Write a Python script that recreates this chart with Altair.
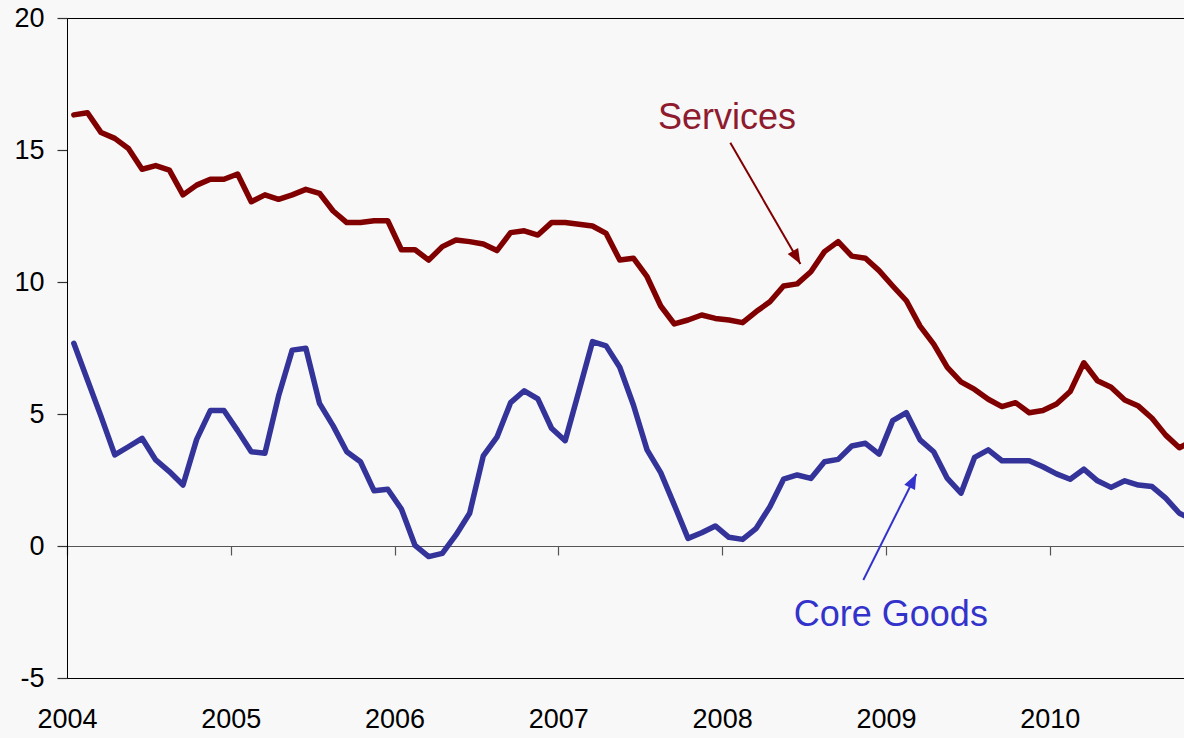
import altair as alt
import pandas as pd

# Monthly values, Jan 2004 .. Nov 2010 (percent)
services = [
    16.33, 16.41, 15.66, 15.44, 15.06, 14.27, 14.41, 14.24, 13.30, 13.67, 13.89, 13.89,
    14.09, 13.04, 13.30, 13.13, 13.30, 13.51, 13.36, 12.69, 12.25, 12.25, 12.32, 12.32,
    11.22, 11.22, 10.83, 11.34, 11.59, 11.53, 11.44, 11.19, 11.87, 11.94, 11.78, 12.25,
    12.25, 12.19, 12.12, 11.84, 10.83, 10.90, 10.20, 9.09, 8.41, 8.56, 8.75, 8.62,
    8.56, 8.46, 8.88, 9.25, 9.85, 9.93, 10.39, 11.15, 11.53, 10.98, 10.90, 10.43,
    9.85, 9.29, 8.33, 7.65, 6.77, 6.22, 5.93, 5.56, 5.28, 5.43, 5.05, 5.13,
    5.38, 5.85, 6.94, 6.26, 6.01, 5.53, 5.30, 4.84, 4.20, 3.72, 4.00,
]
core_goods = [
    7.68, 6.29, 4.90, 3.45, 3.76, 4.08, 3.26, 2.82, 2.31, 4.04, 5.13, 5.13,
    4.37, 3.57, 3.51, 5.68, 7.42, 7.49, 5.40, 4.55, 3.57, 3.19, 2.09, 2.15,
    1.40, 0.02, -0.40, -0.28, 0.42, 1.24, 3.41, 4.12, 5.43, 5.88, 5.57, 4.46,
    3.99, 5.85, 7.74, 7.58, 6.77, 5.34, 3.64, 2.78, 1.55, 0.29, 0.50, 0.76,
    0.33, 0.25, 0.67, 1.49, 2.53, 2.69, 2.56, 3.19, 3.28, 3.79, 3.89, 3.48,
    4.75, 5.05, 4.02, 3.57, 2.56, 2.00, 3.36, 3.64, 3.23, 3.23, 3.23, 3.00,
    2.73, 2.53, 2.91, 2.47, 2.22, 2.47, 2.31, 2.25, 1.81, 1.24, 1.00,
]
series_names = ["Services", "Core Goods"]
series_colors = ["#800000", "#333399"]
year_ticks = [2004, 2005, 2006, 2007, 2008, 2009, 2010]
y_ticks = [-5, 0, 5, 10, 15, 20]

# Annotation labels and arrows (data coordinates)
label_text = ["Services", "Core Goods"]
label_x = [2008.03, 2009.03]
label_y = [16.21, -2.61]
label_color = ["#8E1B2E", "#3333CC"]
arrow_x1 = [2008.05, 2008.862]
arrow_y1 = [15.27, -1.29]
arrow_x2 = [2008.478, 2009.186]
arrow_y2 = [10.68, 2.73]
arrow_angle = [150, 26.6]
arrow_color = ["#800000", "#3333CC"]

n = len(services)
t = [2004 + (i + 0.5) / 12 for i in range(n)]
df = pd.DataFrame({
    "t": t + t,
    "value": services + core_goods,
    "series": [series_names[0]] * n + [series_names[1]] * n,
})
labels = pd.DataFrame({"text": label_text, "x": label_x, "y": label_y, "color": label_color})
arrows = pd.DataFrame({"x1": arrow_x1, "y1": arrow_y1, "x2": arrow_x2, "y2": arrow_y2,
                       "angle": arrow_angle, "color": arrow_color})

FONT = "Liberation Sans"
x_scale = alt.Scale(domain=[2004, 2010.82], nice=False, zero=False)
y_scale = alt.Scale(domain=[-5, 20], nice=False, zero=False)

x_axis = alt.Axis(
    values=year_ticks, format="d", offset=-132, orient="bottom",
    domain=True, domainColor="#555555", domainWidth=1.2,
    ticks=True, tickSize=9, tickColor="#555555", tickWidth=1.2,
    grid=False, title=None,
    labelFont=FONT, labelFontSize=27, labelColor="#000000",
    labelPadding=151, labelAlign="center", labelBaseline="top",
    labelOverlap=False, labelFlush=False)
y_axis = alt.Axis(
    values=y_ticks, orient="left",
    labelExpr="toString(datum.value)",
    domain=True, domainColor="#000000", domainWidth=1,
    ticks=True, tickSize=10, tickColor="#333333", tickWidth=1.2,
    grid=False, title=None,
    labelFont=FONT, labelFontSize=27, labelColor="#000000",
    labelPadding=13, labelOverlap=False, labelFlush=False)

lines = alt.Chart(df).mark_line(strokeWidth=5.5, clip=True, strokeJoin="round", strokeCap="round").encode(
    x=alt.X("t:Q", scale=x_scale, axis=x_axis),
    y=alt.Y("value:Q", scale=y_scale, axis=y_axis),
    color=alt.Color("series:N", scale=alt.Scale(domain=series_names, range=series_colors), legend=None),
)

arrow_lines = alt.Chart(arrows).mark_rule(strokeWidth=2).encode(
    x=alt.X("x1:Q", scale=x_scale, axis=x_axis),
    y=alt.Y("y1:Q", scale=y_scale, axis=y_axis),
    x2="x2:Q",
    y2="y2:Q",
    color=alt.Color("color:N", scale=None),
)

arrow_heads = alt.Chart(arrows).mark_point(
    shape="M0,0 L0.8,2 L-0.8,2 Z", filled=True, size=225, opacity=1
).encode(
    x=alt.X("x2:Q", scale=x_scale, axis=x_axis),
    y=alt.Y("y2:Q", scale=y_scale, axis=y_axis),
    angle=alt.Angle("angle:Q", scale=None),
    color=alt.Color("color:N", scale=None),
)

texts = alt.Chart(labels).mark_text(font=FONT, fontSize=36, align="center", baseline="middle").encode(
    x=alt.X("x:Q", scale=x_scale, axis=x_axis),
    y=alt.Y("y:Q", scale=y_scale, axis=y_axis),
    text="text:N",
    color=alt.Color("color:N", scale=None),
)

chart = alt.layer(lines, arrow_lines, arrow_heads, texts).properties(
    width=1117, height=660,
    autosize=alt.AutoSizeParams(type="none"),
    padding={"left": 67, "top": 18, "right": 0, "bottom": 60},
    background="#F8F8F8",
).configure_view(stroke="#000000", strokeWidth=1)

chart.save("out.html", embed_options={"renderer": "svg", "actions": False})
